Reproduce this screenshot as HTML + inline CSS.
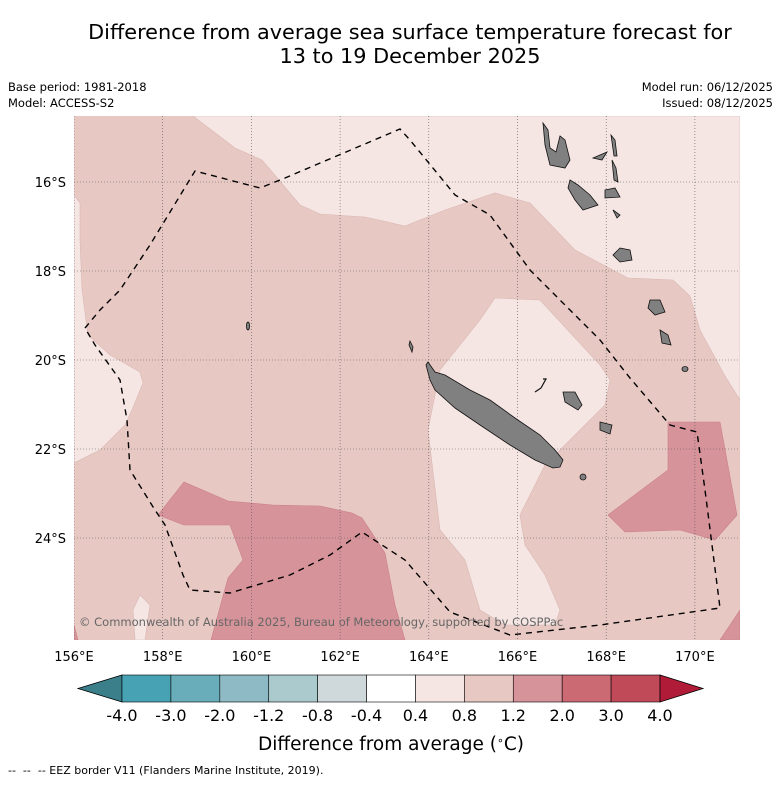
<!DOCTYPE html>
<html><head><meta charset="utf-8"><style>
body{margin:0;background:#fff;font-family:"DejaVu Sans","Liberation Sans",sans-serif;}
svg text{font-family:"DejaVu Sans","Liberation Sans",sans-serif;}
</style></head><body>
<svg width="781" height="781" viewBox="0 0 781 781">
<text x="410" y="39" font-size="20.8" text-anchor="middle">Difference from average sea surface temperature forecast for</text>
<text x="410" y="63" font-size="20.8" text-anchor="middle">13 to 19 December 2025</text>
<text x="8" y="91" font-size="11.5">Base period: 1981-2018</text>
<text x="8" y="107" font-size="11.5">Model: ACCESS-S2</text>
<text x="773" y="91" font-size="11.5" text-anchor="end">Model run: 06/12/2025</text>
<text x="773" y="107" font-size="11.5" text-anchor="end">Issued: 08/12/2025</text>
<defs><clipPath id="mc"><rect x="74" y="116" width="666" height="524"/></clipPath></defs>
<g clip-path="url(#mc)">
<rect x="74" y="116" width="666" height="524" fill="#e8c8c3"/>
<g fill="#f5e6e4" stroke="#d9b8b4" stroke-width="0.6">
<polygon points="193,116 235,148 262,160 300,205 320,214 365,217 405,226 445,210 495,193 530,203 575,250 628,278 673,280 690,296 700,330 725,376 740,400 740,116"/>
<polygon points="495,298 540,300 600,365 610,380 605,405 570,440 545,465 520,515 525,545 545,575 560,610 555,625 505,625 480,610 465,560 440,530 428,430 440,370 480,320"/>
<polygon points="74,195 80,203 80,240 82,290 88,335 110,355 140,372 143,383 132,410 125,425 100,450 74,463"/>
<polygon points="135,640 133,610 140,595 150,605 145,640"/>
</g>
<g fill="#d7939a" stroke="#c98088" stroke-width="0.6">
<polygon points="158,515 184,482 228,501 273,505 320,506 352,513 362,518 385,553 395,605 405,640 211,640 228,578 243,560 230,525 184,525"/>
<polygon points="608,515 668,470 668,422 720,422 737,515 715,540 680,530 625,532"/>
<polygon points="720,640 740,610 740,640"/>
<polygon points="74,625 78,640 74,640"/>
</g>
<g id="grid" stroke="#555" stroke-width="0.6" stroke-dasharray="1,2"></g>
<g fill="#808080" stroke="#111" stroke-width="0.8">
<polygon points="428,362 435,372 445,375 470,390 490,400 515,418 540,435 555,450 563,460 560,467 553,468 535,460 510,445 480,425 455,408 435,390 430,380 426,365"/>
<path d="M535,392 L541,388 L546,379 L543,379" fill="none" stroke-width="1.2"/>
<polygon points="563,392 575,392 582,405 578,410 565,402"/>
<polygon points="600,422 612,425 610,434 600,430"/>
<ellipse cx="583" cy="477" rx="3" ry="3"/>
<polygon points="410,341 413,347 412,352 409,345"/>
<polygon points="543,123 548,130 550,148 556,152 560,136 565,140 570,160 565,168 550,165 545,145"/>
<polygon points="570,180 578,185 590,195 598,205 583,210 575,200 568,188"/>
<polygon points="611,135 615,140 617,156 614,156"/>
<polygon points="612,160 616,168 618,182 614,180"/>
<polygon points="593,158 607,152 602,160"/>
<polygon points="605,190 615,188 620,197 605,198"/>
<polygon points="613,210 620,215 617,218"/>
<polygon points="620,248 630,250 632,260 620,262 613,255"/>
<polygon points="650,300 660,300 665,312 655,315 648,308"/>
<polygon points="660,330 668,335 671,345 662,343"/>
<ellipse cx="685" cy="369" rx="3" ry="2.5"/>
<ellipse cx="248" cy="326" rx="1.5" ry="4"/>
</g>
<polyline points="85,328 100,310 120,290 150,245 195,171 260,188 285,178 400,129 410,140 455,195 490,215 530,270 570,310 600,340 630,378 670,425 697,432 705,490 720,608 600,625 510,635 450,612 405,560 362,532 330,555 290,575 230,593 190,590 183,575 165,525 155,510 130,470 127,420 120,380 95,345 85,328" fill="none" stroke="#000" stroke-width="1.4" stroke-dasharray="6,5"/>
<text x="79" y="626" font-size="11.5" fill="#666">© Commonwealth of Australia 2025, Bureau of Meteorology, supported by COSPPac</text>
</g>
<g id="ticks" font-size="13"></g>
<g id="cbar"></g>
<text x="391" y="750" font-size="18.5" text-anchor="middle">Difference from average (<tspan baseline-shift="super" font-size="11">∘</tspan>C)</text>
<text x="8" y="774" font-size="11" style="white-space:pre">--  --  -- EEZ border V11 (Flanders Marine Institute, 2019).</text>
</svg>
<script>
const lonTicks=[156,158,160,162,164,166,168,170];
const latTicks=[16,18,20,22,24];
const cbarLevels=["-4.0","-3.0","-2.0","-1.2","-0.8","-0.4","0.4","0.8","1.2","2.0","3.0","4.0"];
const cbarColors=["#47a3b3","#6aadba","#8dbac4","#abcacd","#cfd8da","#ffffff","#f5e6e4","#e8c8c3","#d7939a","#cc6a74","#c04a58"];
const NS="http://www.w3.org/2000/svg";
function xLon(l){return 74+(l-156)*44.35;}
function yLat(l){return 182+(l-16)*44.5;}
function mk(t,a,p){const e=document.createElementNS(NS,t);for(const k in a)e.setAttribute(k,a[k]);p.appendChild(e);return e;}
const grid=document.getElementById('grid'),ticks=document.getElementById('ticks'),cb=document.getElementById('cbar');
lonTicks.forEach(l=>{const x=xLon(l);
 const ln=mk('line',{x1:x,y1:116,x2:x,y2:640},grid);
 
 
 const t=mk('text',{x:x,y:661,'text-anchor':'middle'},ticks);t.textContent=l+'°E';
 
 });
latTicks.forEach(l=>{const y=yLat(l);
 const ln=mk('line',{x1:74,y1:y,x2:740,y2:y},grid);
 
 
 const t=mk('text',{x:66,y:y+5,'text-anchor':'end'},ticks);t.textContent=l+'°S';
 
 });
const cx0=122,cx1=660,cy=675,ch=27,n=cbarColors.length,w=(cx1-cx0)/n;
const lt=mk('polygon',{points:`${cx0},${cy} 78,${cy+ch/2} ${cx0},${cy+ch}`,fill:'#3a7f8a',stroke:'#000','stroke-width':0.8},cb);


cbarColors.forEach((c,i)=>{const r=mk('rect',{x:cx0+i*w,y:cy,width:w,height:ch,fill:c,stroke:'#000','stroke-width':0.6},cb);
 
 });
const rt=mk('polygon',{points:`${cx1},${cy} 703,${cy+ch/2} ${cx1},${cy+ch}`,fill:'#b01c38',stroke:'#000','stroke-width':0.8},cb);


cbarLevels.forEach((v,i)=>{const t=mk('text',{x:cx0+i*w,y:721,'text-anchor':'middle','font-size':16},cb);t.textContent=v;
 
 });
</script>
</body></html>
